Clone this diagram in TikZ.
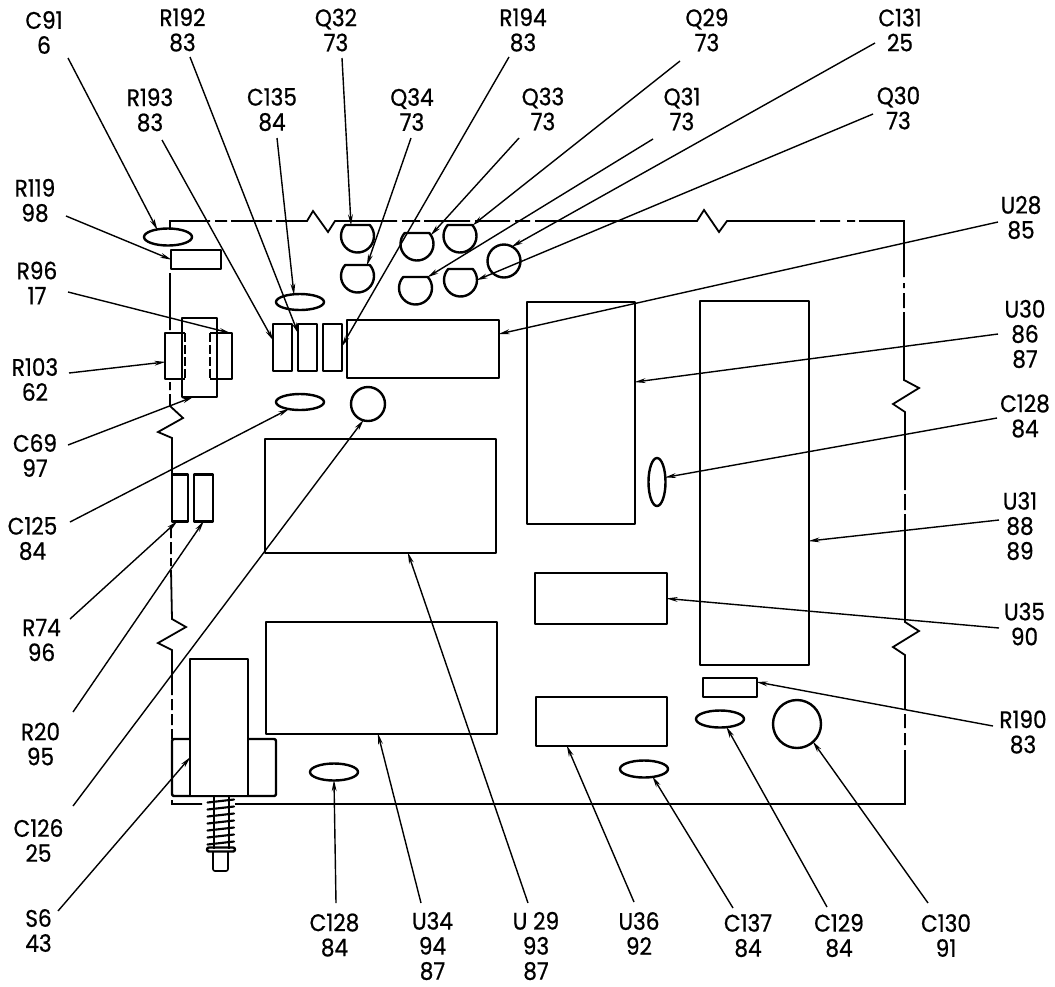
\documentclass[tikz,border=0pt]{standalone}
\usepackage{fontspec}
\setmainfont[FakeStretch=0.9,FakeBold=0.7]{Poppins}
\usetikzlibrary{arrows.meta,calc,shapes.geometric}
\tikzset{
  part/.style={draw=black,line width=1.8pt,inner sep=0pt,outer sep=0pt,line join=round},
  ghost/.style={inner sep=0pt,outer sep=0pt},
  sz/.style 2 args={minimum width=#1*0.75pt,minimum height=#2*0.75pt},
  oval/.style 2 args={part,ellipse,sz={#1}{#2}},
  round part/.style={part,circle,minimum size=#1*0.75pt},
  lbl/.style={align=center,inner sep=0pt,font=\fontsize{18}{18.75}\selectfont},
  lead/.style={line width=1.05pt,-{Stealth[length=8.5pt,width=3.6pt]},shorten >=-0.5pt},
  outline/.style={line width=1.35pt,line join=miter},
  coil/.style={line width=1.6pt,line cap=round}
}
\newcommand{\dtrans}[3]{%
  \node[ghost,circle,minimum size=24.75pt] (#1) at (#2,#3) {};
  \draw[part] ($(#1)+(12.3,-11)$) arc[start angle=-41.8,end angle=221.8,radius=16.5] -- cycle;}
\begin{document}
\begin{tikzpicture}[x=0.75pt,y=-0.75pt]
\useasboundingbox (0,0) rectangle (1055,986);
% board outline
\draw[outline] (170,228)--(170,221)--(210,221) (215,221)--(227,221) (231,221)--(272,221) (276,221)--(307,221)--(313,211)--(328,232)--(335,221)--(397,221)
  (402,221)--(420,221) (424,221)--(470,221) (475,221)--(510,221) (515,221)--(530,221) (535,221)--(697,221)--(704,210)--(719,232)--(727,221)--(815,221)
  (820,221)--(840,221) (847,221)--(855,221) (859,221)--(904,221)--(904,277)
  (904,283)--(904,288) (904,293)--(904,308) (904,312)--(904,380)--(919,388)--(893,404)--(905,412)--(905,490)
  (905,494)--(905,510) (905,514)--(905,622)--(919,631)--(893,647)--(905,655)--(905,709)
  (905,714)--(905,728) (905,733)--(905,745) (905,750)--(905,804)--(235,804)
  (202,804)--(172,804)--(172,800)
  (170,273)--(170,330) (170,382)--(170,390) (170,394)--(170,406)--(183,418)--(158,432)--(172,438)--(172,474)
  (171,526)--(171,538) (171,542)--(171,554) (171,558)--(171,566) (171,570)--(172,619)--(186,627)--(158,643)--(172,650)--(172,695)
  (172,699)--(172,710) (172,714)--(172,725) (172,729)--(172,739);
% parts
\node[oval={48}{17}] (pC91) at (168,237) {};
\node[part,sz={50}{19}] (pR119) at (196,259.5) {};
\node[oval={48}{16}] (pC135) at (300,302) {};
\node[oval={48}{16}] (pC125) at (300,402) {};
\node[round part=34] (pC126) at (368,404) {};
\node[round part=33] (pC131) at (504,261) {};
\dtrans{qQ32}{357.5}{236}
\dtrans{qQ34}{357.5}{276}
\dtrans{qQ33}{417}{244}
\dtrans{qQ29}{460}{236}
\dtrans{qQ31}{415.5}{288}
\dtrans{qQ30}{460.5}{280}
% R103, C69, R96 group
\node[part,sz={35}{79}] (pC69) at (199.5,357.5) {};
\node[ghost,sz={20}{46}] (pR103) at (175,356) {};
\draw[part] (pR103.north east)--(pR103.north west)--(pR103.south west)--(pR103.south east);
\draw[part,dashed,line width=1.2pt,dash pattern=on 7pt off 2pt] (pR103.north east)--(pR103.south east);
\node[ghost,sz={22}{46}] (pR96) at (221,356) {};
\draw[part] (pR96.north west)--(pR96.north east)--(pR96.south east)--(pR96.south west);
\draw[part,dashed,line width=1.2pt,dash pattern=on 7pt off 2pt] (pR96.north west)--(pR96.south west);
\node[part,sz={19}{47}] (pR193) at (282.5,347.5) {};
\node[part,sz={19}{47}] (pR192) at (307.5,347.5) {};
\node[part,sz={19}{47}] (pR194) at (332.5,347.5) {};
\node[part,sz={152}{58}] (pU28) at (423,349) {};
\node[part,sz={108}{222}] (pU30) at (581,413) {};
\node[oval={17}{48}] (pC128r) at (657,482) {};
\node[part,sz={109}{364}] (pU31) at (754.5,483) {};
\node[part,sz={231}{114}] (pU29) at (380.5,496) {};
\node[part,sz={16}{47}] (pR74) at (180,498) {};
\node[part,sz={19}{47}] (pR20) at (203.5,498) {};
\node[part,sz={132}{51}] (pU35) at (601,598.5) {};
\node[part,sz={231}{112}] (pU34) at (381.5,678) {};
\node[part,sz={131}{49}] (pU36) at (601.5,721.5) {};
\node[part,sz={54}{19}] (pR190) at (730,687.5) {};
\node[oval={48}{17}] (pC129) at (720,719) {};
\node[round part=48] (pC130) at (797,724) {};
\node[oval={48}{17}] (pC128b) at (334,772) {};
\node[oval={48}{17}] (pC137) at (644,769) {};
% S6 switch
\node[part,sz={104}{57},rounded corners=1.5pt] (pS6base) at (224,767.5) {};
\node[part,fill=white,sz={58}{137}] (pS6) at (219,727.5) {};
\foreach \yy in {801,808,815,822,829,836,843}
  \draw[coil] (207.5,\yy+1.5)--(234,\yy-1.5);
\draw[line width=1.2pt] (214,797)--(214,849) (229,797)--(229,849);
\node[part,sz={28}{4},rounded corners=1.5pt] (pWasher) at (221,849.5) {};
\node[ghost,sz={15}{20}] (pPin) at (220.5,861) {};
\draw[line width=1.2pt,rounded corners=1.5pt] (pPin.north west)--(pPin.south west)--(pPin.south east)--(pPin.north east);
% labels
\node[lbl] (lC91) at (44,32.5) {C91\\6};
\node[lbl] (lR192) at (182.5,30) {R192\\83};
\node[lbl] (lQ32) at (336,30) {Q32\\73};
\node[lbl] (lR194) at (523,30) {R194\\83};
\node[lbl] (lQ29) at (707,30) {Q29\\73};
\node[lbl] (lC131) at (900,30) {C131\\25};
\node[lbl] (lR193) at (150,110) {R193\\83};
\node[lbl] (lC135) at (272,109.5) {C135\\84};
\node[lbl] (lQ34) at (412,109.5) {Q34\\73};
\node[lbl] (lQ33) at (543,109) {Q33\\73};
\node[lbl] (lQ31) at (682,109) {Q31\\73};
\node[lbl] (lQ30) at (898.5,108) {Q30\\73};
\node[lbl] (lR119) at (35,200.5) {R119\\98};
\node[lbl] (lR96) at (37,283) {R96\\17};
\node[lbl] (lR103) at (35,379.5) {R103\\62};
\node[lbl] (lC69) at (35,455.5) {C69\\97};
\node[lbl] (lC125) at (32.5,538.5) {C125\\84};
\node[lbl] (lR74) at (41.5,640) {R74\\96};
\node[lbl] (lR20) at (40.5,744) {R20\\95};
\node[lbl] (lC126) at (38.5,840.5) {C126\\25};
\node[lbl] (lS6) at (38.5,930.5) {S6\\43};
\node[lbl] (lC128b) at (334.5,935) {C128\\84};
\node[lbl] (lU34) at (432.5,946) {U34\\94\\87};
\node[lbl] (lU29) at (536,946) {U 29\\93\\87};
\node[lbl] (lU36) at (639,933.5) {U36\\92};
\node[lbl] (lC137) at (748,935.5) {C137\\84};
\node[lbl] (lC129) at (839,935.5) {C129\\84};
\node[lbl] (lC130) at (946,935.5) {C130\\91};
\node[lbl] (lU28) at (1021,217.5) {U28\\85};
\node[lbl] (lU30) at (1025,334) {U30\\86\\87};
\node[lbl] (lC128r) at (1025,416) {C128\\84};
\node[lbl] (lU31) at (1020,526) {U31\\88\\89};
\node[lbl] (lU35) at (1024.5,624) {U35\\90};
\node[lbl] (lR190) at (1023,732) {R190\\83};
% leader free ends
\coordinate (sC91) at (68,58);
\coordinate (sR192) at (190,57);
\coordinate (sQ32) at (342,58);
\coordinate (sR194) at (509,57);
\coordinate (sQ29) at (680,61);
\coordinate (sC131) at (875,43);
\coordinate (sR193) at (162,140);
\coordinate (sC135) at (277,138);
\coordinate (sQ34) at (411,138);
\coordinate (sQ33) at (519,138);
\coordinate (sQ31) at (653,139);
\coordinate (sQ30) at (873,114);
\coordinate (sR119) at (66,216);
\coordinate (sR96) at (68,292);
\coordinate (sR103) at (69,373);
\coordinate (sC69) at (68,445);
\coordinate (sC125) at (70,522);
\coordinate (sR74) at (70,619);
\coordinate (sR20) at (73,712);
\coordinate (sC126) at (73,806);
\coordinate (sS6) at (58,911);
\coordinate (sC128b) at (336,903);
\coordinate (sU34) at (421,903);
\coordinate (sU29) at (528,903);
\coordinate (sU36) at (634,902);
\coordinate (sC137) at (733,908);
\coordinate (sC129) at (827,907);
\coordinate (sC130) at (928,903);
\coordinate (sU28) at (998,222);
\coordinate (sU30) at (998,334);
\coordinate (sC128r) at (997,418);
\coordinate (sU31) at (999,520);
\coordinate (sU35) at (999,628);
\coordinate (sR190) at (993,726);
% leaders
\draw[lead] (sC91) -- (pC91.145);
\draw[lead] (sR192) -- ($(pR192.north west)+(0,9)$);
\draw[lead] (sQ32) -- ($(qQ32)+(-6.5,-11)$);
\draw[lead] (sR194) -- ($(pR194.east)+(0,-1.5)$);
\draw[lead] (sQ29) -- ($(qQ29)+(13,-11)$);
\draw[lead] (sC131) -- (pC131.61);
\draw[lead] (sR193) -- ($(pR193.west)+(0,-7.5)$);
\draw[lead] (sC135) -- (pC135.128);
\draw[lead] (sQ34) -- ($(qQ34)+(9.5,-11)$);
\draw[lead] (sQ33) -- ($(qQ33)+(14,-9)$);
\draw[lead] (sQ31) -- ($(qQ31)+(12.3,-11)$);
\draw[lead] (sQ30) -- (qQ30.east);
\draw[lead] (sR119) -- (pR119.west);
\draw[lead] (sR96) -- ($(pR96.north east)+(-2,0)$);
\draw[lead] (sR103) -- ($(pR103.west)+(0,6)$);
\draw[lead] (sC69) -- ($(pC69.south)+(-6.5,0)$);
\draw[lead] (sC125) -- (pC125.212);
\draw[lead] (sR74) -- ($(pR74.south)+(-3,0)$);
\draw[lead] (sR20) -- (pR20.south);
\draw[lead] (sC126) -- (pC126.254);
\draw[lead] (sS6) -- ($(pS6.west)+(0,30)$);
\draw[lead] (sC128b) -- (pC128b.south);
\draw[lead] (sU34) -- ($(pU34.south)+(-3.5,0)$);
\draw[lead] (sU29) -- ($(pU29.south)+(27.5,0)$);
\draw[lead] (sU36) -- ($(pU36.south)+(-34.5,0)$);
\draw[lead] (sC137) -- (pC137.318);
\draw[lead] (sC129) -- (pC129.309);
\draw[lead] (sC130) -- (pC130.312);
\draw[lead] (sU28) -- ($(pU28.east)+(0,-15)$);
\draw[lead] (sU30) -- ($(pU30.east)+(0,-31)$);
\draw[lead] (sC128r) -- (pC128r.29);
\draw[lead] (sU31) -- ($(pU31.east)+(0,58)$);
\draw[lead] (sU35) -- (pU35.east);
\draw[lead] (sR190) -- ($(pR190.east)+(0,-5.5)$);
\end{tikzpicture}
\end{document}
